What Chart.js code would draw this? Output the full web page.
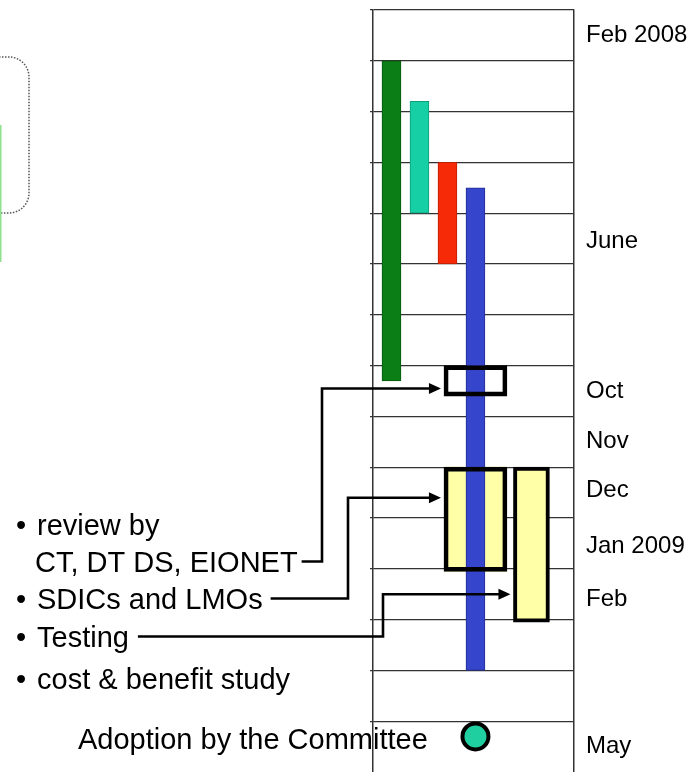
<!DOCTYPE html>
<html>
<head>
<meta charset="utf-8">
<script src="https://cdn.jsdelivr.net/npm/chart.js@4.4.1/dist/chart.umd.min.js"></script>
<style>
  html, body { margin: 0; padding: 0; background: #fff; }
  canvas { display: block; }
</style>
</head>
<body>
<canvas id="timeline" width="696" height="772"></canvas>
<script>
// --- DATA ---
// one row per month, row 0 = top of the grid (Feb 2008)
const monthLabels = ['Feb 2008', 'June', 'Oct', 'Nov', 'Dec', 'Jan 2009', 'Feb', 'May'];
const monthTicks = [0.5, 4.55, 7.5, 8.5, 9.45, 10.55, 11.6, 14.5];

// coloured phase bars (lane = column in the grid)
const barLanes = [1, 2, 3, 4];
const barStarts = [1.0, 1.8, 3.0, 3.5];
const barEnds = [7.3, 4.0, 5.0, 13.0];
const barColors = ['#0b7f16', '#17cfa4', '#f72a08', '#3545cc'];
const barEdges = ['#07560e', '#0f9c7a', '#b81f05', '#232e92'];

// consultation steps, each one pointed at from the list on the left
const stepNames = ['review by CT, DT DS, EIONET', 'SDICs and LMOs', 'Testing'];
const stepLanes = [4, 4, 6];
const stepStarts = [7.0, 9.0, 9.0];
const stepEnds = [7.6, 11.05, 12.05];
const stepArrowRows = [7.45, 9.6, 11.5];

// adoption by the Committee
const adoptionLane = 4;
const adoptionRow = 14.3;

const ROW_MIN = 0, ROW_MAX = 15;
const LANE_MIN = 0.34, LANE_MAX = 7.52;

const FONT = '"Liberation Sans", Arial, sans-serif';
const yellow = '#ffffa8';

// --- LEFT TEXT + CONNECTORS ---
const listLines = [
  { bullet: true,  text: 'review by',            x: 37, base: 535 },
  { bullet: false, text: 'CT, DT DS, EIONET',    x: 35, base: 572 },
  { bullet: true,  text: 'SDICs and LMOs',       x: 37, base: 609 },
  { bullet: true,  text: 'Testing',              x: 37, base: 647 },
  { bullet: true,  text: 'cost & benefit study', x: 37, base: 689 }
];
// which list line leads to which step, and where its connector turns up
const connectors = [
  { line: 1, step: 0, gap: 4, turnX: 322 },
  { line: 2, step: 1, gap: 8, turnX: 348 },
  { line: 3, step: 2, gap: 9, turnX: 383 }
];

const notes = {
  id: 'notes',
  beforeDraw(chart) {
    // bits of the slide left of the chart
    const ctx = chart.ctx;
    ctx.save();
    ctx.strokeStyle = '#555';
    ctx.lineWidth = 1.5;
    ctx.setLineDash([1.5, 1.5]);
    ctx.beginPath();
    ctx.roundRect(-30, 57, 59, 156, 20);
    ctx.stroke();
    ctx.setLineDash([]);
    ctx.strokeStyle = '#8fe08f';
    ctx.lineWidth = 2;
    ctx.beginPath();
    ctx.moveTo(0.5, 125);
    ctx.lineTo(0.5, 262);
    ctx.stroke();
    ctx.restore();
  },
  afterDraw(chart) {
    const ctx = chart.ctx;
    const yScale = chart.scales.y;
    ctx.save();
    ctx.font = '29px ' + FONT;
    ctx.fillStyle = '#000';
    ctx.textBaseline = 'alphabetic';

    listLines.forEach(l => {
      if (l.bullet) {
        ctx.textAlign = 'center';
        ctx.fillText('\u2022', 21, l.base);
      }
      ctx.textAlign = 'left';
      ctx.fillText(l.text, l.x, l.base);
    });
    ctx.fillText('Adoption by the Committee', 78, 749);

    // step boxes: dataset 2 holds steps 0 and 1, dataset 3 holds step 2
    const boxEls = [
      chart.getDatasetMeta(2).data[0],
      chart.getDatasetMeta(2).data[1],
      chart.getDatasetMeta(3).data[0]
    ];

    ctx.strokeStyle = '#000';
    ctx.lineWidth = 2.6;
    ctx.lineJoin = 'miter';
    connectors.forEach(c => {
      const l = listLines[c.line];
      const sx = l.x + ctx.measureText(l.text).width + c.gap;
      const sy = l.base - 10.5;
      const el = boxEls[c.step];
      const tipX = el.x - el.width / 2 - 3;
      const ty = yScale.getPixelForValue(stepArrowRows[c.step]);
      ctx.beginPath();
      ctx.moveTo(sx, sy);
      ctx.lineTo(c.turnX, sy);
      ctx.lineTo(c.turnX, ty);
      ctx.lineTo(tipX - 9, ty);
      ctx.stroke();
      ctx.beginPath();
      ctx.moveTo(tipX, ty);
      ctx.lineTo(tipX - 12, ty - 5.5);
      ctx.lineTo(tipX - 12, ty + 5.5);
      ctx.closePath();
      ctx.fill();
    });
    ctx.restore();
  }
};

// --- CHART ---
const phaseBars = barLanes.map((lane, i) => ({ x: lane, y: [barStarts[i], barEnds[i]] }));
const wideBoxes = [0, 1].map(i => ({ x: stepLanes[i], y: [stepStarts[i], stepEnds[i]] }));
const narrowBox = [{ x: stepLanes[2], y: [stepStarts[2], stepEnds[2]] }];

// no label margins: the chart area has to fill the whole height
const noPad = s => { s.paddingTop = 0; s.paddingBottom = 0; s.paddingLeft = 0; s.paddingRight = 0; };

new Chart(document.getElementById('timeline'), {
  type: 'bar',
  data: {
    datasets: [
      { // yellow fill behind the blue bar
        data: [wideBoxes[1]], backgroundColor: yellow, borderWidth: 0,
        barThickness: 62, grouped: false, order: 6
      },
      {
        data: phaseBars, backgroundColor: barColors, borderColor: barEdges, borderWidth: 1,
        borderSkipped: false, barThickness: 19, grouped: false, order: 5
      },
      { // black frames on top of the blue bar
        data: wideBoxes, backgroundColor: 'rgba(0,0,0,0)', borderColor: '#000', borderWidth: 4,
        borderSkipped: false, barThickness: 63, grouped: false, order: 4
      },
      {
        data: narrowBox, backgroundColor: yellow, borderColor: '#000', borderWidth: 4,
        borderSkipped: false, barThickness: 36, grouped: false, order: 3
      },
      {
        type: 'scatter',
        data: [{ x: adoptionLane, y: adoptionRow }],
        backgroundColor: '#1fcf9f', borderColor: '#000', borderWidth: 4,
        pointRadius: 13, order: 1
      }
    ]
  },
  options: {
    responsive: false,
    animation: false,
    layout: { autoPadding: false, padding: { left: 370, top: 10, right: 0, bottom: 0 } },
    plugins: { legend: { display: false }, tooltip: { enabled: false } },
    scales: {
      x: {
        type: 'linear', min: LANE_MIN, max: LANE_MAX, offset: false,
        ticks: { display: false },
        grid: { offset: false, color: '#333', lineWidth: 1.3, drawTicks: false },
        border: { display: false },
        afterBuildTicks: s => { s.ticks = [{ value: LANE_MIN }, { value: LANE_MAX }]; },
        afterFit: s => { s.height = 0; noPad(s); }
      },
      y: {
        type: 'linear', position: 'left', reverse: true, min: ROW_MIN, max: ROW_MAX,
        ticks: { display: false },
        grid: { color: '#333', lineWidth: 1.3, tickLength: 3 },
        border: { color: '#333', width: 1.3 },
        afterBuildTicks: s => {
          // month boundaries; the last row runs off the bottom of the picture
          const t = [];
          for (let v = ROW_MIN; v < ROW_MAX; v++) t.push({ value: v });
          s.ticks = t;
        },
        afterFit: s => { s.width = 3; noPad(s); }
      },
      months: {
        type: 'linear', position: 'right', reverse: true, min: ROW_MIN, max: ROW_MAX,
        grid: { display: false, drawTicks: false },
        border: { display: true, color: '#333', width: 1.3 },
        ticks: {
          autoSkip: false, padding: 12, color: '#000',
          font: { family: FONT, size: 24 },
          callback: (v, i) => monthLabels[i]
        },
        afterBuildTicks: s => { s.ticks = monthTicks.map(v => ({ value: v })); },
        afterFit: s => { s.width = 122; noPad(s); }
      }
    }
  },
  plugins: [notes]
});
</script>
</body>
</html>
